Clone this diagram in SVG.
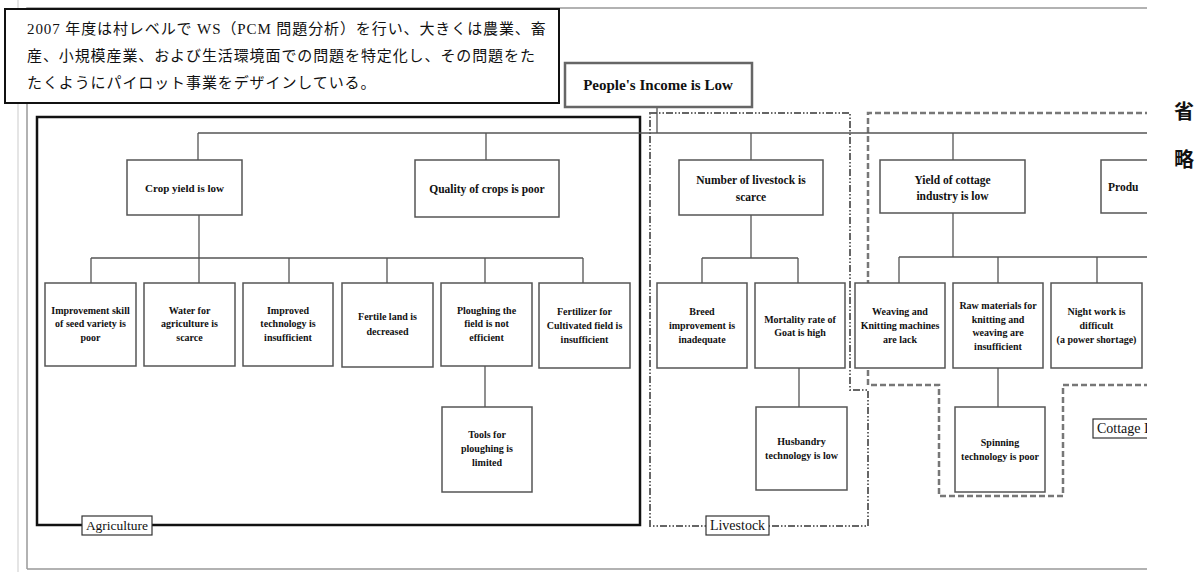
<svg xmlns="http://www.w3.org/2000/svg" width="1204" height="572" viewBox="0 0 1204 572">
<style>
.bg{fill:#fff}
.nb{fill:#fff;stroke:#555;stroke-width:1.5}
.t{font-family:"Liberation Serif","Times New Roman",serif;font-weight:bold;font-size:10px;fill:#111;text-anchor:middle}
.tm{font-family:"Liberation Serif","Times New Roman",serif;font-weight:bold;font-size:11.5px;fill:#111;text-anchor:middle}
.tr{font-family:"Liberation Serif","Times New Roman",serif;font-weight:bold;font-size:15px;fill:#111;text-anchor:middle}
.tl{font-family:"Liberation Serif","Times New Roman",serif;font-size:13.5px;fill:#111}
.c{fill:none;stroke:#555;stroke-width:1.3}
.frame{fill:none;stroke:#999;stroke-width:1.5}
.jp{font-family:"Liberation Serif","Noto Sans CJK JP",sans-serif;font-size:15px;letter-spacing:0.9px;fill:#111}
.ryaku{font-family:"Noto Sans CJK JP",sans-serif;font-weight:bold;font-size:20px;fill:#111;text-anchor:middle}
</style>
<defs>
<clipPath id="clip"><rect x="0" y="0" width="1147" height="572"/></clipPath>
</defs>
<rect class="bg" x="0" y="0" width="1204" height="572"/>
<g clip-path="url(#clip)">
<g id="outer-frame">
<line x1="18" y1="0" x2="18" y2="572" stroke="#ddd" stroke-width="1.5"/>
<path class="frame" d="M27,569 V8 H1147 M27,569 H1147"/>
</g>
<g id="group-agriculture">
<rect x="37" y="117" width="603" height="408" fill="none" stroke="#111" stroke-width="2.5"/>
<rect x="82" y="516" width="70" height="19" fill="#fff" stroke="#333" stroke-width="1.2"/>
<text class="tl" x="117" y="530" text-anchor="middle">Agriculture</text>
</g>
<g id="group-livestock">
<path d="M650,113 H850 V390 H868 V526 H650 Z" fill="none" stroke="#666" stroke-width="2" stroke-dasharray="7,2,1.5,2,1.5,2"/>
<rect x="706" y="516" width="63" height="19" fill="#fff" stroke="#333" stroke-width="1.2"/>
<text class="tl" x="737.5" y="530" text-anchor="middle" style="font-size:14px">Livestock</text>
</g>
<g id="group-cottage">
<path d="M1150,385 H1063 V496 H939 V385 H868 V113 H1150" fill="none" stroke="#777" stroke-width="2.5" stroke-dasharray="6,3"/>
<rect x="1093" y="419" width="60" height="19" fill="#fff" stroke="#333" stroke-width="1.2"/>
<text class="tl" x="1097" y="433" style="font-size:14px">Cottage I</text>
</g>
<g id="connectors">
<path class="c" d="M657,107 V133 M198,133 H1147 M198,133 V160 M486,133 V160 M751,133 V160 M953,133 V160"/>
<path class="c" d="M199,215 V283 M91,258 H583 M91,258 V283 M289,258 V283 M387,258 V283 M485,258 V283 M583,258 V283"/>
<path class="c" d="M751,215 V258 M702,258 H798 M702,258 V283 M798,258 V283"/>
<path class="c" d="M953,213 V257 M899,257 H1147 M899,257 V283 M998,257 V283 M1097,257 V283"/>
<path class="c" d="M485,366 V407 M799,368 V407 M998,368 V407"/>
</g>
<g id="node-root">
<rect x="565" y="63" width="187" height="44" fill="#fff" stroke="#666" stroke-width="2.5"/>
<text class="tr" x="658" y="90">People's Income is Low</text>
</g>
<g id="node-crop">
<rect class="nb" x="127" y="160" width="115" height="55"/>
<text class="tm" x="184.5" y="192" style="font-size:11px">Crop yield is low</text>
</g>
<g id="node-quality">
<rect class="nb" x="415" y="160" width="144" height="57"/>
<text class="tm" x="487" y="193">Quality of crops is poor</text>
</g>
<g id="node-livestock">
<rect class="nb" x="679" y="160" width="144" height="55"/>
<text class="tm" x="751" y="184">Number of livestock is</text>
<text class="tm" x="751" y="201">scarce</text>
</g>
<g id="node-cottage">
<rect class="nb" x="880" y="160" width="145" height="53"/>
<text class="tm" x="952.5" y="184">Yield of cottage</text>
<text class="tm" x="952.5" y="200">industry is low</text>
</g>
<g id="node-produ">
<rect class="nb" x="1101" y="160" width="60" height="53"/>
<text class="tm" x="1108" y="191" style="text-anchor:start">Produ</text>
</g>
<g id="node-seed">
<rect class="nb" x="45" y="283" width="91" height="83"/>
<text class="t" x="90.5" y="314">Improvement skill</text>
<text class="t" x="90.5" y="327">of seed variety is</text>
<text class="t" x="90.5" y="341">poor</text>
</g>
<g id="node-water">
<rect class="nb" x="144" y="283" width="91" height="83"/>
<text class="t" x="189.5" y="314">Water for</text>
<text class="t" x="189.5" y="327">agriculture is</text>
<text class="t" x="189.5" y="341">scarce</text>
</g>
<g id="node-tech">
<rect class="nb" x="243" y="283" width="90" height="83"/>
<text class="t" x="288" y="314">Improved</text>
<text class="t" x="288" y="327">technology is</text>
<text class="t" x="288" y="341">insufficient</text>
</g>
<g id="node-fertile">
<rect class="nb" x="342" y="283" width="91" height="84"/>
<text class="t" x="387.5" y="320">Fertile land is</text>
<text class="t" x="387.5" y="335">decreased</text>
</g>
<g id="node-plough">
<rect class="nb" x="441" y="283" width="91" height="83"/>
<text class="t" x="486.5" y="314">Ploughing the</text>
<text class="t" x="486.5" y="327">field is not</text>
<text class="t" x="486.5" y="341">efficient</text>
</g>
<g id="node-fertilizer">
<rect class="nb" x="539" y="283" width="91" height="85"/>
<text class="t" x="584.5" y="315">Fertilizer for</text>
<text class="t" x="584.5" y="329">Cultivated field is</text>
<text class="t" x="584.5" y="343">insufficient</text>
</g>
<g id="node-breed">
<rect class="nb" x="657" y="283" width="90" height="85"/>
<text class="t" x="702" y="315">Breed</text>
<text class="t" x="702" y="329">improvement is</text>
<text class="t" x="702" y="343">inadequate</text>
</g>
<g id="node-mortality">
<rect class="nb" x="755" y="283" width="90" height="85"/>
<text class="t" x="800" y="323">Mortality  rate of</text>
<text class="t" x="800" y="336">Goat is high</text>
</g>
<g id="node-weaving">
<rect class="nb" x="855" y="283" width="90" height="85"/>
<text class="t" x="900" y="315">Weaving and</text>
<text class="t" x="900" y="329">Knitting machines</text>
<text class="t" x="900" y="343">are lack</text>
</g>
<g id="node-raw">
<rect class="nb" x="953" y="283" width="90" height="85"/>
<text class="t" x="998" y="309">Raw materials for</text>
<text class="t" x="998" y="323">knitting and</text>
<text class="t" x="998" y="336">weaving are</text>
<text class="t" x="998" y="350">insufficient</text>
</g>
<g id="node-night">
<rect class="nb" x="1051" y="283" width="91" height="85"/>
<text class="t" x="1096.5" y="315">Night work is</text>
<text class="t" x="1096.5" y="329">difficult</text>
<text class="t" x="1096.5" y="343">(a power shortage)</text>
</g>
<g id="node-tools">
<rect class="nb" x="442" y="407" width="90" height="85"/>
<text class="t" x="487" y="438">Tools for</text>
<text class="t" x="487" y="452">ploughing is</text>
<text class="t" x="487" y="466">limited</text>
</g>
<g id="node-husbandry">
<rect class="nb" x="756" y="407" width="91" height="83"/>
<text class="t" x="801.5" y="445">Husbandry</text>
<text class="t" x="801.5" y="459">technology is low</text>
</g>
<g id="node-spinning">
<rect class="nb" x="955" y="407" width="90" height="85"/>
<text class="t" x="1000" y="446">Spinning</text>
<text class="t" x="1000" y="460">technology is poor</text>
</g>
</g>
<g id="note">
<rect x="5" y="9" width="554" height="94" fill="#fff" stroke="#111" stroke-width="2"/>
<text class="jp" x="27" y="34">2007 年度は村レベルで WS（PCM 問題分析）を行い、大きくは農業、畜</text>
<text class="jp" x="27" y="61">産、小規模産業、および生活環境面での問題を特定化し、その問題をた</text>
<text class="jp" x="27" y="88">たくようにパイロット事業をデザインしている。</text>
</g>
<g id="omitted">
<text class="ryaku" x="1184" y="119">省</text>
<text class="ryaku" x="1184" y="167">略</text>
</g>
</svg>
